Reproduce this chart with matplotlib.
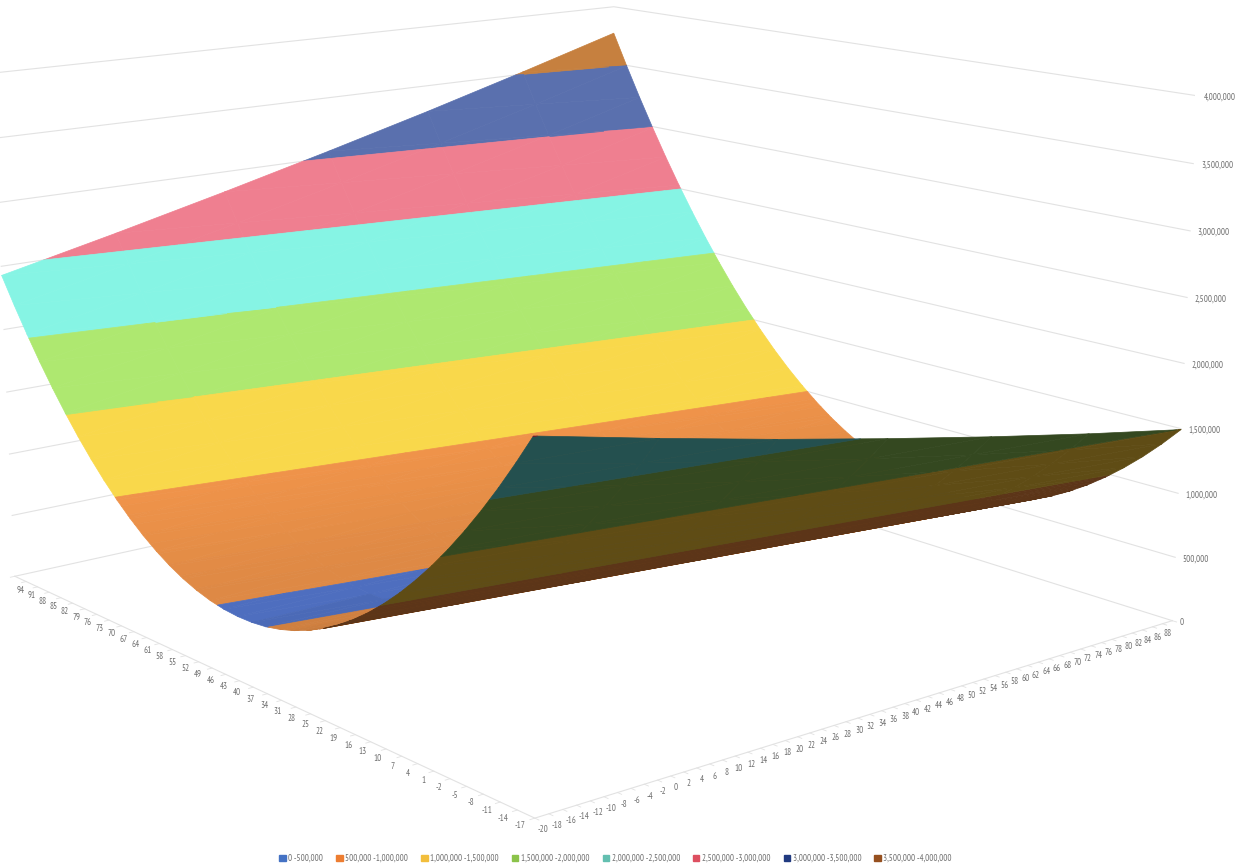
import numpy as np
import matplotlib
matplotlib.use('Agg')
from matplotlib import pyplot as plt
from matplotlib.colors import to_rgb
from matplotlib.patches import Patch
from mpl_toolkits.mplot3d import proj3d
from mpl_toolkits.mplot3d.art3d import Poly3DCollection

plt.rcParams['font.family'] = ['PT Sans Narrow', 'Lato', 'DejaVu Sans']

x_ticks = list(range(-20, 89, 2))
y_ticks = list(range(-17, 95, 3))
z_ticks = [0, 500000, 1000000, 1500000, 2000000, 2500000, 3000000, 3500000, 4000000]
z_tick_labels = ['0', '500,000', '1,000,000', '1,500,000', '2,000,000', '2,500,000',
                 '3,000,000', '3,500,000', '4,000,000']

x_cols = [-20, -2, 16, 34, 52, 70, 88]
z_at_m20 = [2506, 2295, 2095, 1907, 1731, 1566, 1413, 1272, 1142, 1024, 917, 822, 739, 667, 607, 559, 522, 496, 483,
            481, 490, 511, 544, 588, 644, 712, 791, 882, 984, 1098, 1224, 1361, 1510, 1670, 1842, 2026, 2221, 2428]
z_at_m2 = [2313, 2112, 1923, 1746, 1580, 1426, 1284, 1153, 1034, 926, 830, 746, 673, 612, 562, 524, 498, 483, 480,
           489, 509, 541, 584, 639, 705, 784, 873, 975, 1088, 1212, 1349, 1496, 1656, 1827, 2010, 2204, 2410, 2627]
z_at_16 = [2129, 1939, 1761, 1594, 1439, 1296, 1164, 1044, 935, 838, 753, 679, 617, 566, 527, 500, 484, 480, 488,
           507, 537, 580, 634, 699, 776, 865, 965, 1077, 1201, 1336, 1483, 1641, 1811, 1993, 2186, 2391, 2607, 2836]
z_at_34 = [1956, 1776, 1609, 1453, 1308, 1175, 1054, 944, 846, 760, 685, 622, 570, 530, 502, 485, 480, 486, 505,
           534, 575, 628, 693, 769, 857, 956, 1067, 1190, 1324, 1469, 1627, 1796, 1976, 2169, 2373, 2588, 2815, 3054]
z_at_52 = [1792, 1623, 1466, 1320, 1186, 1064, 954, 854, 767, 691, 627, 574, 533, 504, 486, 480, 485, 502, 531,
           571, 623, 687, 762, 849, 947, 1057, 1178, 1311, 1456, 1613, 1781, 1960, 2151, 2354, 2569, 2795, 3032, 3281]
z_at_70 = [1637, 1479, 1333, 1198, 1075, 963, 863, 774, 697, 632, 579, 537, 506, 487, 480, 485, 501, 528, 567,
           618, 681, 755, 840, 938, 1047, 1167, 1299, 1443, 1598, 1765, 1944, 2134, 2336, 2549, 2774, 3011, 3259, 3519]
z_at_88 = [1493, 1345, 1209, 1085, 972, 871, 782, 704, 637, 583, 540, 508, 488, 480, 484, 499, 525, 563, 613,
           675, 748, 832, 929, 1037, 1156, 1287, 1430, 1584, 1750, 1928, 2117, 2318, 2530, 2754, 2990, 3237, 3496, 3766]

band_step = 500000
band_top = ['#5578D0', '#F0944A', '#F9D84B', '#AEE870', '#86F4E4', '#EF7F90', '#5A70AE', '#C6803F']
band_under = ['#22315A', '#5C3518', '#5F4C15', '#344820', '#24504F', '#6B2030', '#22305A', '#5C3518']
legend_labels = ['0 -500,000', '500,000 -1,000,000', '1,000,000 -1,500,000', '1,500,000 -2,000,000',
                 '2,000,000 -2,500,000', '2,500,000 -3,000,000', '3,000,000 -3,500,000', '3,500,000 -4,000,000']
legend_colors = ['#4472C4', '#ED7D31', '#F2BE3C', '#8BC34A', '#63BFB0', '#DD4F60', '#203A80', '#96501F']

GRID = '#E2E2E2'
TEXT = '#707070'


def clip_band(tri, lo, hi):
    # keep the part of a triangle between two heights
    poly = tri
    for level, sign in ((lo, 1), (hi, -1)):
        out = []
        for a, b in zip(poly, poly[1:] + poly[:1]):
            da, db = sign * (a[2] - level), sign * (b[2] - level)
            if da >= 0:
                out.append(a)
            if da * db < 0:
                t = da / (da - db)
                out.append(tuple(a[i] + t * (b[i] - a[i]) for i in range(3)))
        poly = out
        if not poly:
            break
    return poly


def shade(color, z, slope):
    # the side tilted away from the light is darker near the trough
    if slope > 0:
        f = np.interp(z, [480000, 1000000], [0.92, 1.0])
    else:
        f = np.interp(z, [480000, 800000], [0.88, 0.78])
    return tuple(c * f for c in to_rgb(color))


def main():
    w = 1262.517
    fig = plt.figure(figsize=(12.39, 8.64), dpi=100)
    ax = fig.add_axes([-67.532 / 1239, -130.380 / 864, w / 1239, w / 864],
                      projection='3d', computed_zorder=False)
    ax.set_xlim(-20, 88)
    ax.set_ylim(-17, 94)
    ax.set_zlim(0, 4000000)
    ax.set_box_aspect((1, 1.05991, 0.64762))
    ax.view_init(elev=13.45719, azim=-129.62453)
    ax.set_proj_type('persp', focal_length=0.46147)
    ax.set_axis_off()
    M = ax.get_proj()

    def label(x, y, z, s, **kw):
        px, py, _ = proj3d.proj_transform(x, y, z, M)
        ax.text2D(px, py, s, transform=ax.transData, color=TEXT, fontsize=6.5, va='center', zorder=5000, **kw)

    # walls and floor edges
    for z in z_ticks:
        ax.plot([88, 88, -20], [-17, 94, 94], [z, z, z], color=GRID, lw=0.8, zorder=1)
    ax.plot([-20, -20, 88], [94, -17, -17], [0, 0, 0], color=GRID, lw=0.8, zorder=1)
    for x in x_ticks:
        ax.plot([x, x], [-17, -17.7], [0, 0], color=GRID, lw=0.6, zorder=1)
    for y in y_ticks:
        ax.plot([-20, -20.7], [y, y], [0, 0], color=GRID, lw=0.6, zorder=1)

    # the orange band gets finer steps for its gradient, the others are flat
    levels = [0, 500000, 550000, 600000, 650000, 700000, 750000, 800000, 850000, 900000, 950000,
              1000000, 1500000, 2000000, 2500000, 3000000, 3500000, 4000000]

    # back cells first so that the near fold covers what is behind it
    z_cols = np.array([z_at_m20, z_at_m2, z_at_16, z_at_34, z_at_52, z_at_70, z_at_88]) * 1000.0
    order = 2
    for j in range(len(y_ticks) - 2, -1, -1):
        for i in range(len(x_cols) - 2, -1, -1):
            p00 = (x_cols[i], y_ticks[j], z_cols[i, j])
            p10 = (x_cols[i + 1], y_ticks[j], z_cols[i + 1, j])
            p11 = (x_cols[i + 1], y_ticks[j + 1], z_cols[i + 1, j + 1])
            p01 = (x_cols[i], y_ticks[j + 1], z_cols[i, j + 1])
            slope = (z_cols[i, j + 1] - z_cols[i, j]) + (z_cols[i + 1, j + 1] - z_cols[i + 1, j])
            polys, colors = [], []
            for tri in ([p00, p10, p01], [p10, p11, p01]):
                sx, sy, _ = proj3d.proj_transform(*np.array(tri).T, M)
                area = (sx[1] - sx[0]) * (sy[2] - sy[0]) - (sx[2] - sx[0]) * (sy[1] - sy[0])
                for lo, hi in zip(levels[:-1], levels[1:]):
                    poly = clip_band(tri, lo, hi)
                    if len(poly) >= 3:
                        b = lo // band_step
                        polys.append(poly)
                        if area > 0:
                            colors.append(shade(band_top[b], (lo + hi) / 2, slope))
                        else:
                            colors.append(to_rgb(band_under[b]))
            cell = Poly3DCollection(polys, facecolors=colors, edgecolors=colors, linewidths=0.5)
            cell.set_zorder(order)
            ax.add_collection3d(cell)
            order += 1

    for x in x_ticks:
        label(x + 1.2 - (x + 20) * 2.05 / 108, -17, -95000, str(x), ha='center')
    for y in y_ticks:
        label(-20, y + 2.6 - (y + 17) * 3.9 / 111, -100000, str(y), ha='center')
    for z, s in zip(z_ticks, z_tick_labels):
        label(88, -18.2, z, s, ha='left')

    handles = [Patch(color=c) for c in legend_colors]
    fig.legend(handles, legend_labels, loc='lower left', bbox_to_anchor=(272 / 1239, -0.007), ncol=8,
               frameon=False, fontsize=6.5, labelcolor=TEXT, handlelength=0.7, handleheight=0.7,
               handletextpad=0.3, columnspacing=1.45, borderpad=0.3)
    fig.savefig('out.png', dpi=100)


if __name__ == '__main__':
    main()
